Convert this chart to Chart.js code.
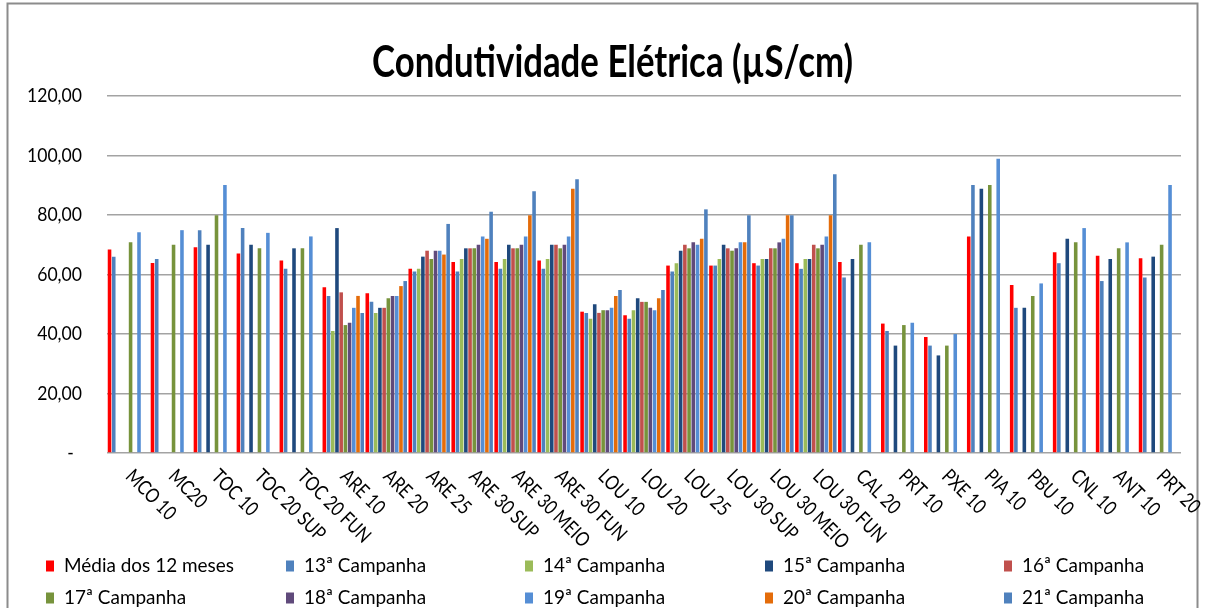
<!DOCTYPE html>
<html>
<head>
<meta charset="utf-8">
<script src="https://cdn.jsdelivr.net/npm/chart.js@4/dist/chart.umd.min.js"></script>
<style>
  html, body { margin: 0; padding: 0; background: #fff; }
  #wrap { position: relative; width: 1205px; height: 608px; }
</style>
</head>
<body>
<div id="wrap"><canvas id="condChart"></canvas></div>
<script>
// pontos de coleta (eixo x)
const pontos = ["MCO 10", "MC20", "TOC 10", "TOC 20 SUP", "TOC 20 FUN", "ARE 10", "ARE 20", "ARE 25",
  "ARE 30 SUP", "ARE 30 MEIO", "ARE 30 FUN", "LOU 10", "LOU 20", "LOU 25", "LOU 30 SUP",
  "LOU 30 MEIO", "LOU 30 FUN", "CAL 20", "PRT 10", "PXE 10", "PIA 10", "PBU 10", "CNL 10", "ANT 10", "PRT 20"];

const yTicks = [0, 20, 40, 60, 80, 100, 120];

// valores (null = sem coleta)
const media12 = [68.4, 63.9, 69.2, 67.1, 64.7, 55.7, 53.7, 61.9, 64.2, 64.2, 64.7, 47.5, 46.3, 63.0, 63.0, 63.8, 63.8, 64.2, 43.5, 39.0, 72.8, 56.5, 67.5, 66.3, 65.5];
const camp13 = [66.0, 65.2, 74.9, 75.6, 61.9, 52.8, 50.8, 61.0, 61.0, 61.9, 61.9, 47.1, 45.1, 61.0, 63.0, 63.0, 61.9, 59.0, 41.0, 36.1, 90.1, 48.8, 63.8, 57.8, 59.0];
const camp14 = [null, null, null, null, null, 41.0, 47.1, 61.9, 65.2, 65.2, 65.2, 45.1, 48.0, 63.8, 65.2, 65.2, 65.2, null, null, null, null, null, null, null, null];
const camp15 = [null, null, 70.0, 70.0, 68.8, 75.6, 48.8, 66.0, 68.8, 70.0, 70.0, 50.0, 52.0, 68.0, 70.0, 65.2, 65.2, 65.2, 36.1, 32.8, 88.8, 48.8, 72.0, 65.2, 66.0];
const camp16 = [null, null, null, null, null, 54.0, 48.8, 68.0, 68.8, 68.8, 70.0, 47.1, 50.8, 70.0, 68.8, 68.8, 70.0, null, null, null, null, null, null, null, null];
const camp17 = [70.8, 70.0, 79.9, 68.8, 68.8, 43.0, 52.0, 65.2, 68.8, 68.8, 68.8, 48.0, 50.8, 68.8, 68.0, 68.8, 68.8, 70.0, 43.0, 36.1, 90.1, 52.8, 70.8, 68.8, 70.0];
const camp18 = [null, null, null, null, null, 43.8, 52.8, 68.0, 70.0, 70.0, 70.0, 48.0, 48.8, 70.8, 68.8, 70.8, 70.0, null, null, null, null, null, null, null, null];
const camp19 = [74.2, 74.9, 90.1, 74.0, 72.8, 48.8, 52.8, 68.0, 72.8, 72.8, 72.8, 48.8, 48.0, 70.0, 70.8, 72.0, 72.8, 70.8, 43.8, 40.0, 98.9, 57.0, 75.6, 70.8, 90.1];
const camp20 = [null, null, null, null, null, 52.8, 56.1, 66.7, 72.0, 79.9, 88.8, 52.8, 52.0, 72.0, 70.8, 79.9, 79.9, null, null, null, null, null, null, null, null];
const camp21 = [null, null, null, null, null, 47.1, 57.8, 77.0, 81.1, 88.0, 92.0, 54.8, 54.8, 81.9, 79.9, 79.9, 93.7, null, null, null, null, null, null, null, null];

const seriesNames = ["Média dos 12 meses", "13ª Campanha", "14ª Campanha", "15ª Campanha", "16ª Campanha",
  "17ª Campanha", "18ª Campanha", "19ª Campanha", "20ª Campanha", "21ª Campanha"];
const seriesData = [media12, camp13, camp14, camp15, camp16, camp17, camp18, camp19, camp20, camp21];
const seriesColors = ["#FF0000", "#4F81BD", "#9BBB59", "#1F497D", "#C0504D",
  "#77933C", "#604A7B", "#558ED5", "#E46C0A", "#4F81BD"];

const titulo = "Condutividade Elétrica (µS/cm)";
const FONT = "Lato, 'Open Sans', sans-serif";

// texto comprimido na horizontal (imita Calibri)
function drawText(ctx, text, x, y, font, align, sx) {
  ctx.save();
  ctx.font = font;
  ctx.textBaseline = "middle";
  ctx.textAlign = "left";
  const w = ctx.measureText(text).width * sx;
  const x0 = align === "right" ? x - w : align === "center" ? x - w / 2 : x;
  ctx.translate(x0, y);
  ctx.scale(sx, 1);
  ctx.fillText(text, 0, 0);
  ctx.restore();
}

function fitScale(ctx, text, font, target) {
  ctx.save();
  ctx.font = font;
  const w = ctx.measureText(text).width;
  ctx.restore();
  return target / w;
}

const excelLook = {
  id: "excelLook",
  afterDraw(chart) {
    const ctx = chart.ctx;
    const x = chart.scales.x;
    const y = chart.scales.y;
    ctx.save();
    ctx.fillStyle = "#000";

    // moldura
    ctx.strokeStyle = "#8C8C8C";
    ctx.lineWidth = 2;
    ctx.strokeRect(7.5, 3.5, 1190, 700);

    // titulo
    const tFont = "bold 44px " + FONT;
    const tsx = fitScale(ctx, titulo, tFont, 481);
    ctx.save();
    ctx.font = tFont;
    ctx.textBaseline = "alphabetic";
    ctx.translate(612.5 - 240.5, 77);
    ctx.scale(tsx, 1);
    ctx.fillText(titulo, 0, 0);
    ctx.restore();

    // rotulos do eixo y
    const yFont = "20px " + FONT;
    const ysx = fitScale(ctx, "120,00", yFont, 55);
    y.ticks.forEach((t) => {
      const py = y.getPixelForValue(t.value);
      if (t.value === 0) {
        drawText(ctx, "-", 70.5, py, yFont, "center", ysx);
      } else {
        drawText(ctx, t.value.toFixed(2).replace(".", ","), 82, py, yFont, "right", ysx);
      }
    });

    // rotulos do eixo x, girados 45 graus
    const xFont = "20px " + FONT;
    const xsx = fitScale(ctx, "MCO 10", xFont, 62);
    pontos.forEach((lab, i) => {
      const cx = x.getPixelForValue(i);
      ctx.save();
      ctx.font = xFont;
      ctx.textBaseline = "middle";
      ctx.textAlign = "left";
      ctx.translate(cx + 0.5, 473);
      ctx.rotate(Math.PI / 4);
      ctx.scale(xsx, 1);
      ctx.fillText(lab, 0, 0);
      ctx.restore();
    });

    // legenda em duas linhas
    const lFont = "20px " + FONT;
    const lsx = fitScale(ctx, seriesNames[0], lFont, 170);
    const cols = [46, 286, 525, 765, 1004];
    const rows = [566, 598];
    seriesNames.forEach((name, i) => {
      const lx = cols[i % 5];
      const ly = rows[Math.floor(i / 5)];
      ctx.fillStyle = seriesColors[i];
      ctx.fillRect(lx, ly - 5.5, 8, 11);
      ctx.fillStyle = "#000";
      drawText(ctx, name, lx + 18, ly, lFont, "left", lsx);
    });
    ctx.restore();
  },
};

new Chart(document.getElementById("condChart"), {
  type: "bar",
  data: {
    labels: pontos,
    datasets: seriesNames.map((name, i) => ({
      label: name,
      data: seriesData[i],
      backgroundColor: seriesColors[i],
      categoryPercentage: 0.98,
      barPercentage: 0.85,
    })),
  },
  options: {
    responsive: true,
    maintainAspectRatio: false,
    animation: false,
    layout: { padding: { top: 96, right: 24, left: 0, bottom: 0 } },
    plugins: {
      legend: { display: false },
      title: { display: false },
      tooltip: { enabled: false },
    },
    scales: {
      x: {
        grid: { display: false },
        border: { display: false },
        ticks: { display: false },
        afterFit: (s) => { s.height = 155; },
      },
      y: {
        min: yTicks[0],
        max: yTicks[yTicks.length - 1],
        afterBuildTicks: (s) => { s.ticks = yTicks.map((v) => ({ value: v })); },
        grid: { color: "#A3A3A3", lineWidth: 1.5, drawTicks: false },
        border: { display: false },
        ticks: { display: false },
        afterFit: (s) => { s.width = 107; },
      },
    },
  },
  plugins: [excelLook],
});
</script>
</body>
</html>
